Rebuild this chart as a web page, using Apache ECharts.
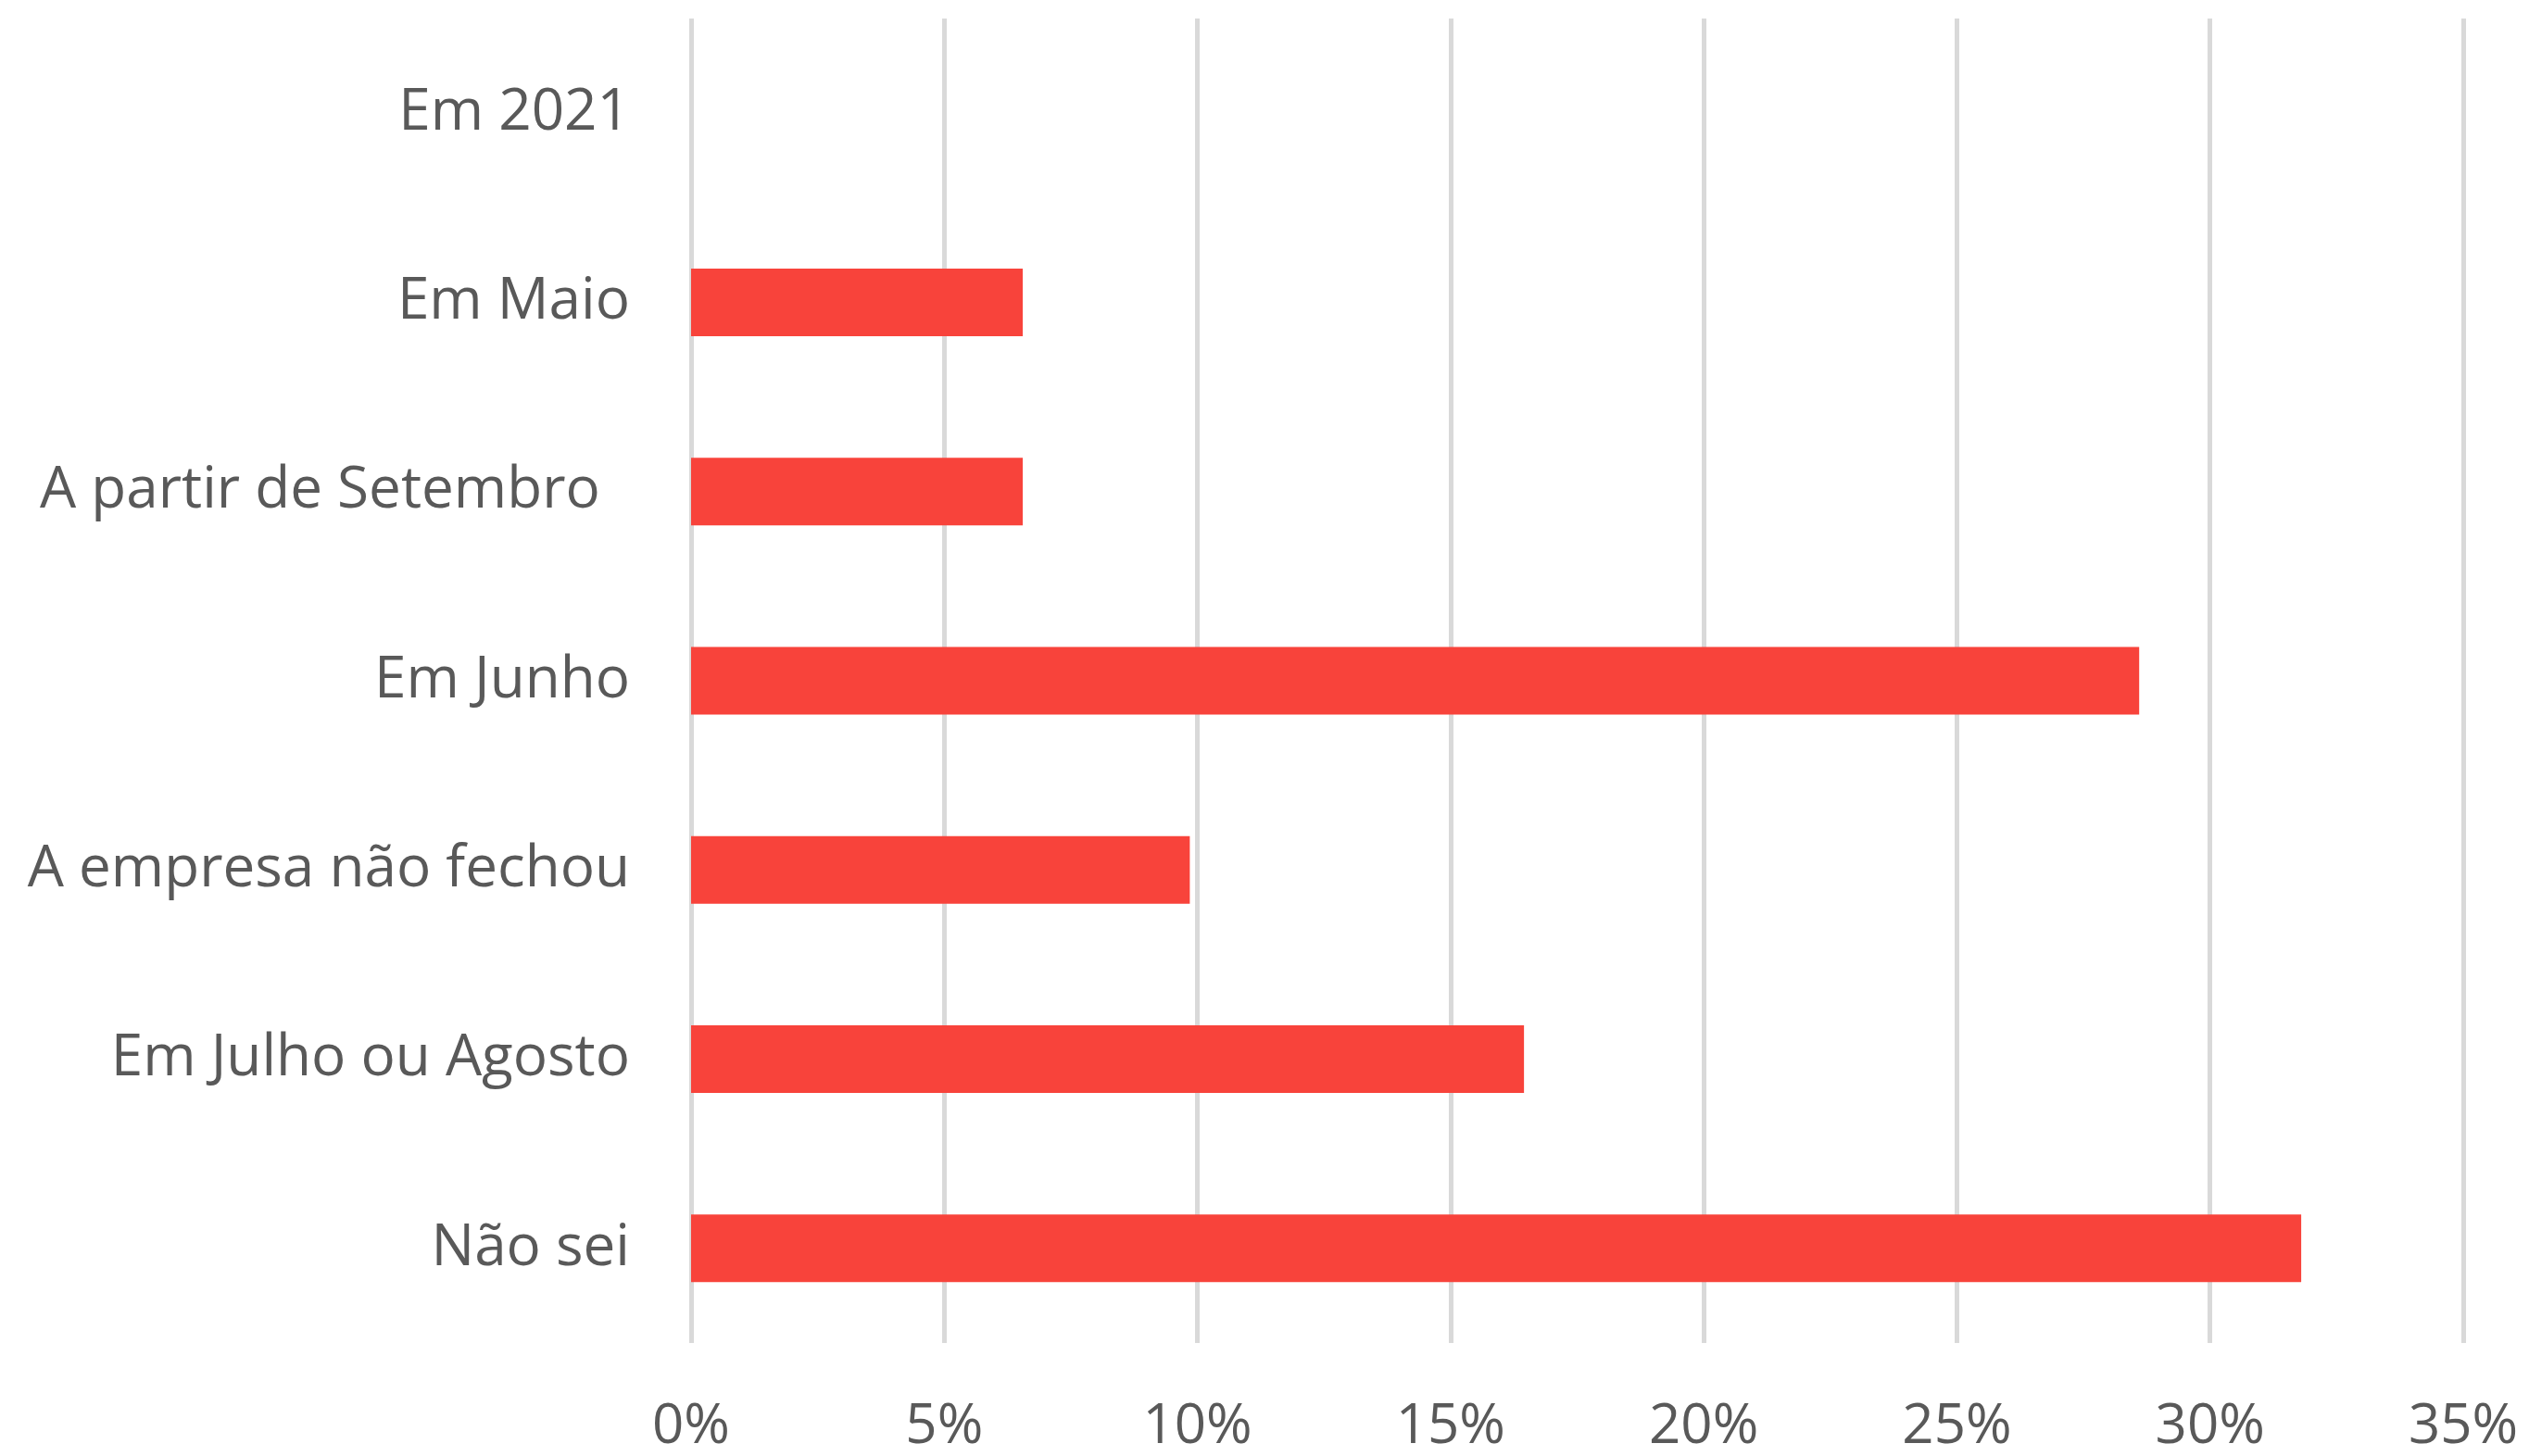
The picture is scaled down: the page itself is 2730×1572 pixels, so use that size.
<!DOCTYPE html>
<html>
<head>
<meta charset="utf-8">
<title>Quando reabre</title>
<script src="https://cdn.jsdelivr.net/npm/echarts@6/dist/echarts.min.js"></script>
<style>
  html, body { margin: 0; padding: 0; background: #ffffff; }
  #chart { width: 2730px; height: 1572px; }
</style>
</head>
<body>
<div id="chart"></div>
<script>
// categorias, de cima para baixo (o rótulo de Setembro tem espaços no fim)
const categorias = ['Em 2021', 'Em Maio', 'A partir de Setembro  ', 'Em Junho', 'A empresa não fechou', 'Em Julho ou Agosto', 'Não sei']
// percentagens
const valores = [0, 6.55, 6.55, 28.6, 9.85, 16.45, 31.8]
const ticksX = [0, 5, 10, 15, 20, 25, 30, 35]

const chart = echarts.init(document.getElementById('chart'))
chart.setOption({
  animation: false,
  grid: {
    left: 746,
    right: 71,
    top: 20,
    bottom: 122
  },
  xAxis: {
    type: 'value',
    min: ticksX[0],
    max: ticksX[ticksX.length - 1],
    interval: 5,
    axisLine: { show: false },
    axisTick: { show: false },
    splitLine: { show: true, lineStyle: { color: '#d9d9d9', width: 5 } },
    axisLabel: {
      formatter: '{value}%',
      color: '#595959',
      fontFamily: 'Open Sans',
      fontSize: 60,
      margin: 61
    }
  },
  yAxis: {
    type: 'category',
    data: categorias,
    inverse: true,
    axisLine: { show: false },
    axisTick: { show: false },
    axisLabel: {
      color: '#595959',
      fontFamily: 'Open Sans',
      fontSize: 62,
      margin: 66
    }
  },
  series: [
    {
      type: 'bar',
      data: valores,
      barWidth: 73,
      itemStyle: { color: '#f8433b' }
    }
  ]
})
</script>
</body>
</html>
